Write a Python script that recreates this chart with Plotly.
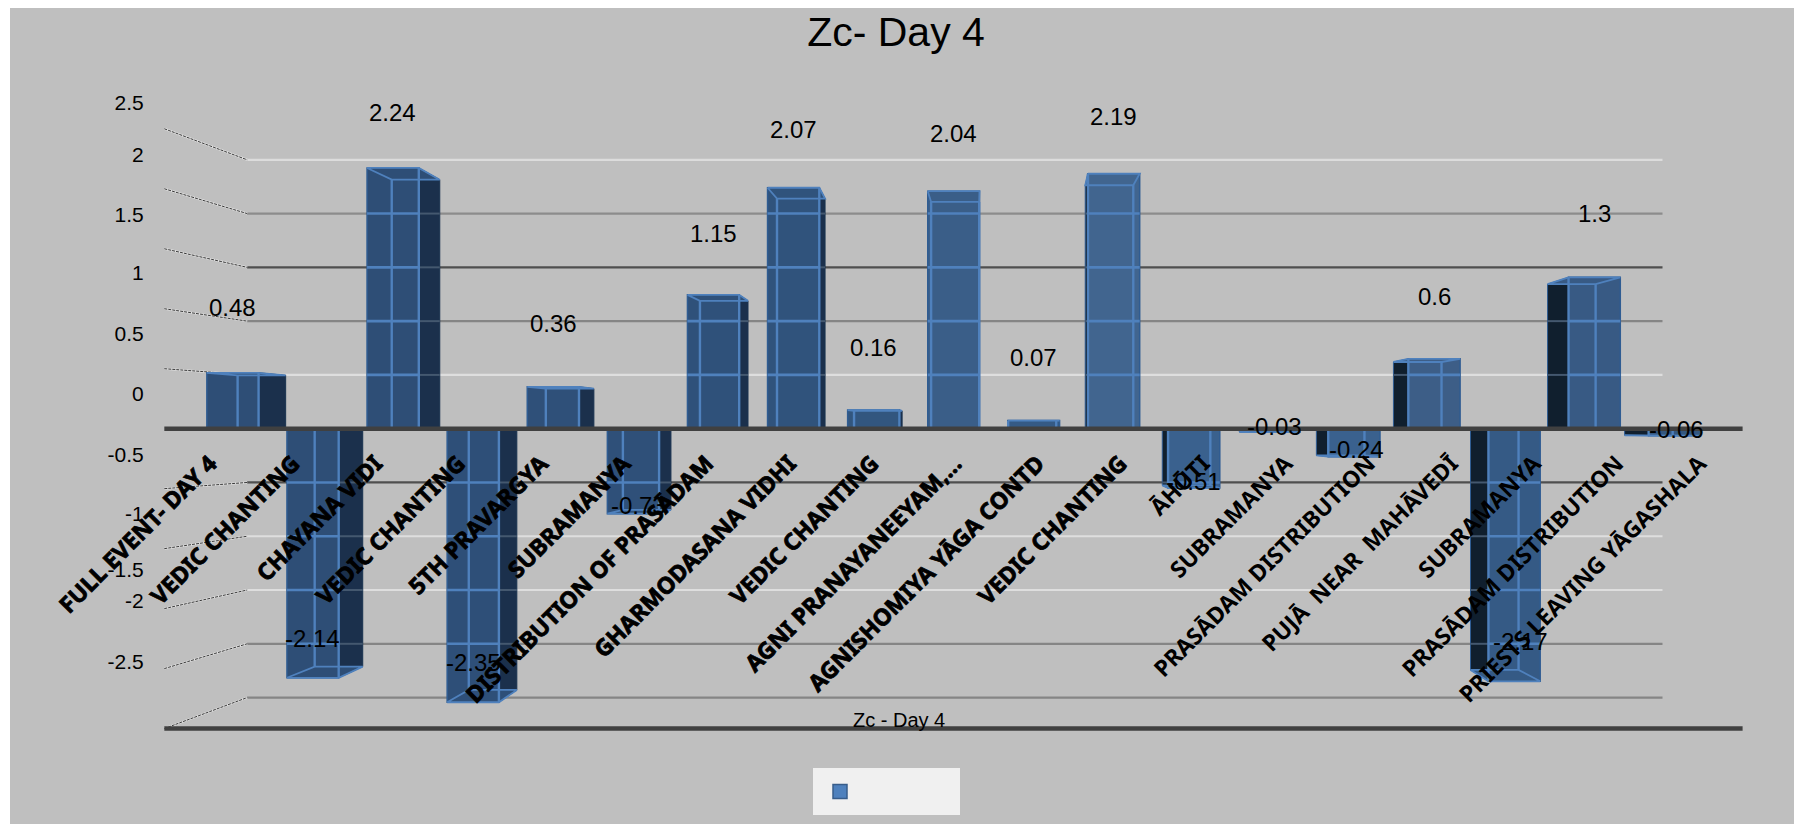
import plotly.graph_objects as go

# Session segments of day 4 and their Zc scores
categories = ["FULL EVENT- DAY 4", "VEDIC CHANTING", "CHAYANA VIDI", "VEDIC CHANTING", "5TH PRAVARGYA",
              "SUBRAMANYA", "DISTRIBUTION OF PRASĀDAM", "GHARMODASANA VIDHI", "VEDIC CHANTING",
              "AGNI PRANAYANEEYAM,...", "AGNISHOMIYA YĀGA CONTD", "VEDIC CHANTING", "ĀHŪTI", "SUBRAMANYA",
              "PRASĀDAM DISTRIBUTION", "PUJĀ  NEAR  MAHĀVEDĪ", "SUBRAMANYA", "PRASĀDAM DISTRIBUTION",
              "PRIESTS LEAVING YĀGASHALA"]
zc_values = [0.48, -2.14, 2.24, -2.35, 0.36, -0.73, 1.15, 2.07, 0.16, 2.04, 0.07, 2.19,
             -0.51, -0.03, -0.24, 0.6, -2.17, 1.3, -0.06]
value_labels = ["0.48", "-2.14", "2.24", "-2.35", "0.36", "-0.73", "1.15", "2.07", "0.16", "2.04", "0.07",
                "2.19", "-0.51", "-0.03", "-0.24", "0.6", "-2.17", "1.3", "-0.06"]

# Value axis labels and where they sit on the drawn scale
ytick_text = ["2.5", "2", "1.5", "1", "0.5", "0", "-0.5", "-1", "-1.5", "-2", "-2.5"]
ytick_at = [2.80, 2.35, 1.84, 1.34, 0.82, 0.30, -0.22, -0.73, -1.21, -1.48, -2.0]

# Wall grid values with their line colours
grid_values = [2.5, 2, 1.5, 1, 0.5, -0.5, -1, -1.5, -2, -2.5]
grid_colors = ["#dcdcdc", "#8c8c8c", "#4f4f4f", "#858585", "#dedede", "#4f4f4f", "#dedede", "#dedede",
               "#858585", "#858585"]

# Styling per column
face_colors = ["#2e4e76", "#2e4e76", "#2e4e76", "#2e4f78", "#2f5079", "#2f5079", "#2f517a", "#30537c", "#32567f",
               "#3a5e88", "#355a85", "#41658f", "#3a618e", "#38608d", "#3a618e", "#3d5e87", "#355a85", "#385a84",
               "#34577f"]
label_lift = [65, 39, 55, 40, 63, 8, 61, 58, 63, 58, 63, 57, 7, 6, 7, 62, 40, 64, 6]
label_nudge = [0, 0, 0, 0, 0, 5, 0, 0, 0, 0, 0, 0, 0, 0, 2, 0, 6, 0, 2]

# Perspective of the box columns
FAR_SCALE = 0.955
NEAR_HALF = 0.323
FAR_HALF = 0.30
DEPTH_SLOPE = 0.038
VANISH_AT = 9.5
BACK_GRID = 0.924
FRONT_GRID = 1.0306
WALL_FRONT, WALL_BACK, GRID_END, AXIS_END = -0.854, 0.18, 17.85, 18.85

WIRE = "#4f81bd"
FONT = "Liberation Sans"

fig = go.Figure()
idx = list(range(len(categories)))

fig.add_trace(go.Bar(x=idx, y=zc_values, width=2 * NEAR_HALF, showlegend=False, hoverinfo="skip",
                     marker=dict(color=face_colors, line=dict(color="#2f5c92", width=1.5))))

face_h, side_h, vert_x, vert_y = ([], [], [], [])
face_hy, side_hy = ([], [])
for i, v in zip(idx, zc_values):
    d = (VANISH_AT - i) * DEPTH_SLOPE
    far_v = v * FAR_SCALE
    near_l, near_r = i - NEAR_HALF, i + NEAR_HALF
    far_l, far_r = i + d - FAR_HALF, i + d + FAR_HALF
    left_side = d > 0
    near_edge, far_edge = (near_r, far_r) if left_side else (near_l, far_l)
    has_side = far_edge > near_edge if left_side else far_edge < near_edge
    if has_side:
        fig.add_trace(go.Scatter(x=[near_edge, near_edge, far_edge, far_edge, near_edge],
                                 y=[0, v, far_v, 0, 0], mode="lines", fill="toself",
                                 fillcolor="#1b304c" if left_side else "#101f2e",
                                 line=dict(color="#2f5c92" if not left_side else "#1a3350", width=1),
                                 showlegend=False, hoverinfo="skip"))
    # Top or bottom cap of the box
    fig.add_trace(go.Scatter(x=[near_l, near_r, far_r, far_l, near_l], y=[v, v, far_v, far_v, v],
                             mode="lines", fill="toself", fillcolor=face_colors[i],
                             line=dict(color=WIRE, width=1.8), showlegend=False, hoverinfo="skip"))
    # Inner vertical edges seen through the box
    inner_far = far_l if left_side else far_r
    vert_x += [inner_far, inner_far, None]
    vert_y += [0, far_v, None]
    if has_side:
        vert_x += [near_edge, near_edge, None]
        vert_y += [0, v, None]
    else:
        vert_x += [far_r if left_side else far_l] * 2 + [None]
        vert_y += [0, far_v, None]
    # Wall grid lines showing through the box
    for g in grid_values:
        gy = g * BACK_GRID
        if g * v > 0 and abs(gy) < abs(far_v):
            face_h += [near_l, near_r, None]
            face_hy += [gy, gy, None]
            if has_side:
                side_h += [near_edge, far_edge, None]
                side_hy += [gy, gy, None]

fig.add_trace(go.Scatter(x=side_h, y=side_hy, mode="lines", line=dict(color="#44586f", width=2),
                         showlegend=False, hoverinfo="skip"))
fig.add_trace(go.Scatter(x=face_h, y=face_hy, mode="lines", line=dict(color=WIRE, width=2.6),
                         showlegend=False, hoverinfo="skip"))
fig.add_trace(go.Scatter(x=vert_x, y=vert_y, mode="lines", line=dict(color=WIRE, width=2.4),
                         showlegend=False, hoverinfo="skip"))

# Legend entry for the single, unnamed series
fig.add_trace(go.Scatter(x=[None], y=[None], mode="markers", name="\u00a0" * 13, hoverinfo="skip",
                         marker=dict(symbol="square", size=14, color="#4f81bd",
                                     line=dict(color="#385d8a", width=1.5))))

shapes = [dict(type="rect", xref="paper", yref="paper", layer="below", line_width=0, fillcolor="#bfbfbf",
               x0=(10 - 164) / 1579, x1=(1794 - 164) / 1579, y0=(741 - 824) / 672, y1=(741 - 8) / 672)]
for g, color in zip(grid_values, grid_colors):
    gb = g * BACK_GRID
    gf = g * FRONT_GRID
    shapes.append(dict(type="line", layer="below", xref="x", yref="y", x0=WALL_BACK, x1=GRID_END, y0=gb, y1=gb,
                       line=dict(color=color, width=2.2)))
    shapes.append(dict(type="line", layer="below", xref="x", yref="y", x0=WALL_FRONT, x1=WALL_BACK, y0=gf, y1=gb,
                       line=dict(color="#e4e4e4", width=2)))
    shapes.append(dict(type="line", layer="below", xref="x", yref="y", x0=WALL_FRONT, x1=WALL_BACK, y0=gf, y1=gb,
                       line=dict(color="#3a3a3a", width=1, dash="3px,1px")))
for base in (0, -2.5 * FRONT_GRID):
    shapes.append(dict(type="line", layer="above", xref="x", yref="y", x0=WALL_FRONT, x1=AXIS_END, y0=base, y1=base,
                       line=dict(color="#404040", width=4.5)))

annotations = [dict(x=i, y=v, xref="x", yref="y", text=t, showarrow=False, yshift=lift, xshift=nudge,
                    font=dict(family=FONT, size=24, color="#000000"))
               for i, v, t, lift, nudge in zip(idx, zc_values, value_labels, label_lift, label_nudge)]
annotations.append(dict(x=(899 - 164) / 1579, y=(741 - 720) / 672, xref="paper", yref="paper", text="Zc - Day 4",
                        yanchor="middle", showarrow=False, font=dict(family=FONT, size=20, color="#000000")))

# The first twelve labels carry a heavier stroke
heavy = 12
tick_text = [f'<b><span style="stroke:#000000;stroke-width:0.8px">{c}</span></b>' if i < heavy else f"<b>{c}</b>"
             for i, c in enumerate(categories)]

fig.update_layout(
    width=1802, height=824,
    margin=dict(l=164, r=59, t=69, b=83, autoexpand=False),
    paper_bgcolor="#ffffff", plot_bgcolor="rgba(0,0,0,0)",
    title=dict(text="Zc- Day 4", x=896 / 1802, xref="container", xanchor="center", y=1 - 32 / 824,
               yref="container", yanchor="middle", font=dict(family=FONT, size=41, color="#000000")),
    barmode="overlay",
    xaxis=dict(range=[-0.858, 18.855], anchor="free", position=0.441, showgrid=False, zeroline=False, showline=False,
               tickmode="array", tickvals=[i * 1.033 - 0.28 for i in idx], ticktext=tick_text, tickangle=-45,
               ticklen=0, tickfont=dict(family="Noto Sans", size=23, color="#000000")),
    yaxis=dict(range=[-2.683, 3.09], showgrid=False, zeroline=False, showline=False, tickmode="array",
               tickvals=ytick_at, ticktext=ytick_text, ticks="outside", ticklen=15, tickcolor="rgba(0,0,0,0)",
               tickfont=dict(family=FONT, size=21, color="#000000")),
    legend=dict(x=(813 - 164) / 1579, y=(741 - 768) / 672, xanchor="left", yanchor="top", bgcolor="#f0f0f0",
                itemwidth=44, font=dict(size=26), borderwidth=0),
    shapes=shapes, annotations=annotations,
)

fig.write_html("out.html")
